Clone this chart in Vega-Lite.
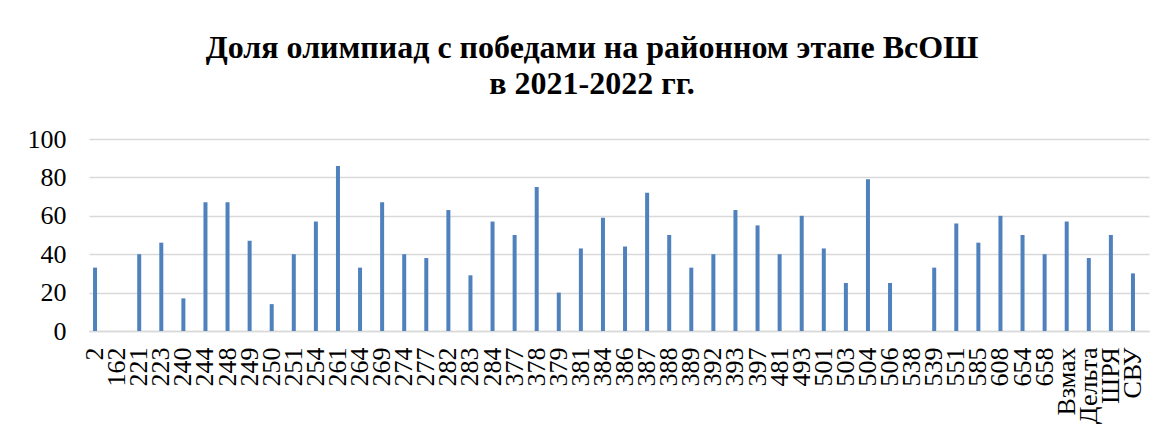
{
  "$schema": "https://vega.github.io/schema/vega-lite/v6.json",
  "width": 1060,
  "height": 192,
  "autosize": {"type": "none"},
  "padding": {"left": 89, "top": 139, "right": 17, "bottom": 106},
  "background": "white",
  "title": {
    "text": ["Доля олимпиад с победами на районном этапе ВсОШ", "в 2021-2022 гг."],
    "font": "Liberation Serif",
    "fontSize": 32,
    "fontWeight": "bold",
    "color": "#000000",
    "lineHeight": 36,
    "anchor": "middle",
    "dx": -27,
    "offset": 25
  },
  "data": {
    "values": [
      {"school": "2", "share": 33},
      {"school": "162", "share": 0},
      {"school": "221", "share": 40},
      {"school": "223", "share": 46},
      {"school": "240", "share": 17},
      {"school": "244", "share": 67},
      {"school": "248", "share": 67},
      {"school": "249", "share": 47},
      {"school": "250", "share": 14},
      {"school": "251", "share": 40},
      {"school": "254", "share": 57},
      {"school": "261", "share": 86},
      {"school": "264", "share": 33},
      {"school": "269", "share": 67},
      {"school": "274", "share": 40},
      {"school": "277", "share": 38},
      {"school": "282", "share": 63},
      {"school": "283", "share": 29},
      {"school": "284", "share": 57},
      {"school": "377", "share": 50},
      {"school": "378", "share": 75},
      {"school": "379", "share": 20},
      {"school": "381", "share": 43},
      {"school": "384", "share": 59},
      {"school": "386", "share": 44},
      {"school": "387", "share": 72},
      {"school": "388", "share": 50},
      {"school": "389", "share": 33},
      {"school": "392", "share": 40},
      {"school": "393", "share": 63},
      {"school": "397", "share": 55},
      {"school": "481", "share": 40},
      {"school": "493", "share": 60},
      {"school": "501", "share": 43},
      {"school": "503", "share": 25},
      {"school": "504", "share": 79},
      {"school": "506", "share": 25},
      {"school": "538", "share": 0},
      {"school": "539", "share": 33},
      {"school": "551", "share": 56},
      {"school": "585", "share": 46},
      {"school": "608", "share": 60},
      {"school": "654", "share": 50},
      {"school": "658", "share": 40},
      {"school": "Взмах", "share": 57},
      {"school": "Дельта", "share": 38},
      {"school": "ШРЯ", "share": 50},
      {"school": "СВУ", "share": 30}
    ]
  },
  "mark": {"type": "bar", "color": "#4f81bd", "width": 4, "xOffset": -5},
  "encoding": {
    "x": {
      "field": "school",
      "type": "nominal",
      "sort": null,
      "title": null,
      "scale": {"paddingInner": 0, "paddingOuter": 0},
      "axis": {
        "labelAngle": -90,
        "labelFont": "Liberation Serif",
        "labelFontSize": 26,
        "labelColor": "#000000",
        "labelOffset": -5,
        "ticks": false,
        "tickSize": 0,
        "labelPadding": 16,
        "domain": true,
        "domainColor": "#d9d9d9",
        "domainWidth": 1.5,
        "grid": false,
        "labelOverlap": false
      }
    },
    "y": {
      "field": "share",
      "type": "quantitative",
      "title": null,
      "scale": {"domain": [0, 100]},
      "axis": {
        "values": [0, 20, 40, 60, 80, 100],
        "labelFont": "Liberation Serif",
        "labelFontSize": 26,
        "labelColor": "#000000",
        "ticks": false,
        "tickSize": 0,
        "labelPadding": 23,
        "domain": false,
        "grid": true,
        "gridColor": "#d9d9d9",
        "gridWidth": 1.5
      }
    }
  },
  "config": {"view": {"stroke": null}}
}
